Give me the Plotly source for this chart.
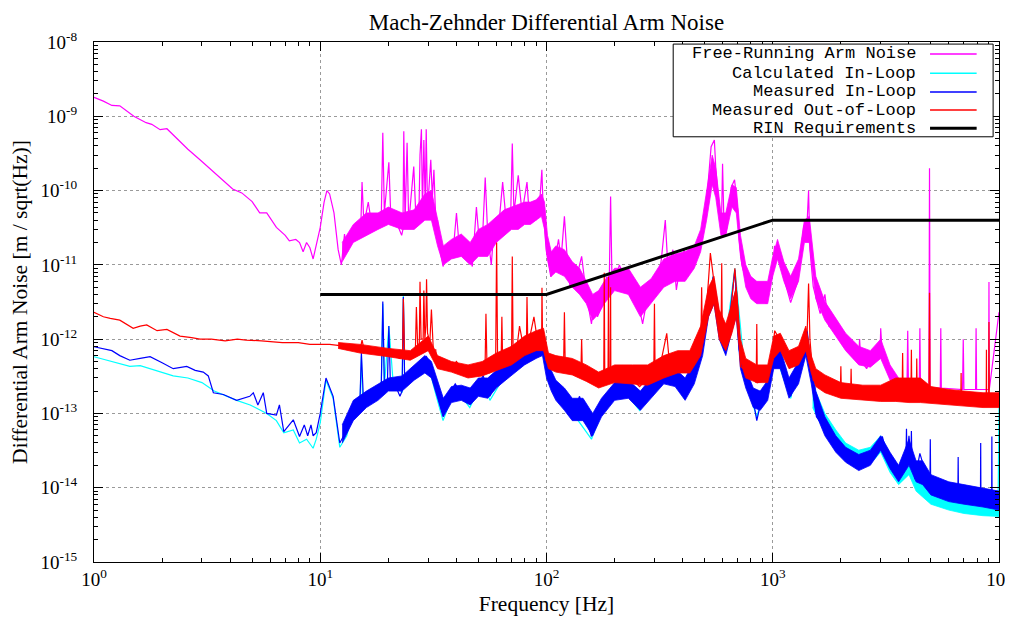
import plotly.graph_objects as go

# ---------------- data ----------------
SERIES_NAMES = ["Free-Running Arm Noise", "Calculated In-Loop", "Measured In-Loop",
                "Measured Out-of-Loop", "RIN Requirements"]
SERIES_COLORS = ["#ff00ff", "#00ffff", "#0000ff", "#ff0000", "#000000"]

X_TICK_VALUES = [1, 10, 100, 1000, 10000]
X_TICK_LABELS = ["10<sup>0</sup>", "10<sup>1</sup>", "10<sup>2</sup>", "10<sup>3</sup>", "10<sup>4</sup>"]
Y_TICK_VALUES = [1e-15, 1e-14, 1e-13, 1e-12, 1e-11, 1e-10, 1e-9, 1e-8]
Y_TICK_LABELS = ["10<sup>-15</sup>", "10<sup>-14</sup>", "10<sup>-13</sup>", "10<sup>-12</sup>",
                 "10<sup>-11</sup>", "10<sup>-10</sup>", "10<sup>-9</sup>", "10<sup>-8</sup>"]

# Free-running arm noise (magenta)
FR_FREQ = [1.0, 1.1, 1.2, 1.3, 1.5, 1.7, 1.8, 1.96, 2.1, 2.3,
           2.6, 2.94, 3.3, 3.6, 4.1, 4.5, 5.0, 5.4, 5.8, 6.4,
           7.0, 7.3, 7.8, 8.1, 8.4, 8.7, 9.0, 9.3, 9.6, 10.0,
           10.4, 10.7, 11.0, 11.5, 12.0, 12.4, 12.8, 13.2, 13.9, 14.5,
           15.1, 15.3, 15.6, 16.3, 17.0, 18.0, 18.6, 18.9, 19.2, 20.1,
           20.5, 21.3, 22.9, 23.2, 23.4, 23.7, 24.2, 24.6, 25.9, 26.5,
           27.3, 27.6, 28.0, 28.3, 28.7, 29.1, 29.4, 29.8, 30.8, 31.3,
           31.8, 32.5, 33.0, 33.8, 34.9, 36.0, 37.4, 38.5, 40.0, 41.0,
           42.8, 45.7, 47.0, 49.0, 50.5, 52.4, 53.6, 55.0, 57.0, 59.0,
           61.0, 64.0, 66.5, 69.5, 70.6, 71.8, 75.0, 78.0, 82.0, 84.0,
           87.0, 90.0, 93.0, 95.4, 96.5, 99.6, 104.5, 108, 113, 116,
           120, 124, 127, 131, 135, 143, 150, 158, 163, 168,
           178, 184, 189, 192, 195, 203, 210, 218, 230, 241,
           250, 258, 266, 276, 287, 300, 311, 322, 335, 345,
           362, 375, 390, 406, 420, 435, 456, 475, 490, 505,
           518, 534, 552, 560, 572, 583, 593, 600, 608, 622,
           640, 655, 678, 700, 710, 730, 764, 800, 842, 880,
           935, 970, 1000, 1018, 1040, 1070, 1130, 1200, 1290, 1370,
           1420, 1440, 1460, 1510, 1620, 1700, 1770, 1970, 2190, 2400,
           2420, 2450, 2600, 2850, 2980, 3000, 3050, 3150, 3400, 3630,
           3920, 3950, 3980, 4440, 4470, 4500, 4900, 4930, 4960, 5500,
           5530, 5560, 6900, 6950, 7000, 7880, 7920, 7960, 9000, 9030,
           9060, 10000]
FR_ASD = [1.8e-9, 1.6e-9, 1.4e-9, 1.38e-9, 1.0e-9, 8.2e-10, 7.8e-10, 6.6e-10, 6.8e-10, 5.2e-10,
          3.6e-10, 2.6e-10, 1.9e-10, 1.5e-10, 1.05e-10, 9.3e-11, 7.1e-11, 5.0e-11, 5.0e-11, 3.2e-11,
          2.5e-11, 2.1e-11, 2.2e-11, 2.0e-11, 1.5e-11, 2.0e-11, 1.7e-11, 1.2e-11, 1.8e-11, 3.2e-11,
          7e-11, 1.0e-10, 9e-11, 5e-11, 1.6e-11, 1.0e-11, 2.6e-11, 1.5e-11, 3.2e-11, 2.5e-11,
          3e-11, 1.3e-10, 3.5e-11, 7e-11, 3e-11, 3.5e-11, 4e-11, 6e-10, 5e-11, 2.4e-10,
          4.5e-11, 4.3e-11, 2.5e-11, 3e-11, 6.3e-10, 3.5e-11, 4.4e-10, 3.6e-11, 2.1e-10, 4e-11,
          5e-11, 3e-10, 6.7e-10, 5e-11, 4.8e-10, 6e-11, 6.7e-10, 5.5e-11, 2.6e-10, 8e-11,
          1.9e-10, 3e-11, 4e-11, 1.6e-11, 9.5e-12, 1.5e-11, 1.8e-11, 1.3e-11, 5e-11, 2e-11,
          1.8e-11, 1.3e-11, 9.5e-12, 6e-11, 2e-11, 3.2e-11, 1.5e-10, 2.5e-11, 1e-11, 4e-11,
          2.5e-11, 1.3e-10, 3.6e-11, 5e-11, 4.3e-10, 5e-11, 1.6e-10, 5e-11, 1.3e-10, 4.5e-11,
          7e-11, 4e-11, 6e-11, 1.9e-10, 6.5e-11, 1.6e-11, 6.9e-12, 1e-11, 2.2e-11, 1.2e-11,
          4.5e-11, 1e-11, 5.1e-12, 8e-12, 6.3e-12, 1.3e-11, 4e-12, 1.6e-12, 3.5e-12, 2e-12,
          3.1e-12, 6.9e-12, 4e-12, 8.3e-11, 5e-12, 7e-12, 1e-11, 7.5e-12, 6e-12, 4.6e-12,
          3e-12, 2.5e-12, 1.6e-12, 3e-12, 4.2e-12, 5e-12, 6e-12, 1.2e-11, 4e-11, 8e-12,
          1.6e-11, 4.6e-12, 1e-11, 1.6e-11, 9e-12, 8.5e-12, 1.3e-11, 2e-11, 3e-11, 6e-11,
          1.26e-10, 3.9e-10, 4.8e-10, 2e-10, 8.3e-11, 5e-11, 3e-11, 2.3e-10, 4e-11, 2.7e-11,
          5e-11, 1.1e-10, 1.4e-10, 5.5e-11, 2.2e-11, 1e-11, 6e-12, 4e-12, 3.1e-12, 5e-12,
          3e-12, 6e-12, 8.5e-12, 1.8e-11, 1.5e-11, 1.3e-11, 6e-12, 3.1e-12, 6e-12, 3.3e-11,
          4e-11, 1e-10, 1.6e-11, 5.1e-12, 2.2e-12, 4e-12, 1.5e-12, 1.2e-12, 6.5e-13, 6e-13,
          1e-12, 5.2e-13, 4e-13, 7.9e-13, 6e-13, 1.4e-12, 6e-13, 4.3e-13, 2.8e-13, 2.3e-13,
          2.3e-13, 1.3e-12, 2.3e-13, 2.2e-13, 1.4e-12, 2.2e-13, 2.2e-13, 2e-10, 2.2e-13, 2.2e-13,
          1.4e-12, 2.2e-13, 2.1e-13, 1e-12, 2.1e-13, 2.1e-13, 1.4e-12, 2.1e-13, 2.1e-13, 5.9e-12,
          2.1e-13, 2.3e-12]
# noise band (lower / upper envelope) of the free-running trace
FR_BAND_FREQ = [12.5, 14, 16, 18, 20, 23, 26, 29, 31, 33,
                35, 38, 42, 46, 50, 55, 60, 65, 70, 75,
                80, 85, 90, 95, 98, 101, 105, 110, 120, 130,
                140, 150, 160, 170, 180, 200, 230, 260, 290, 330,
                370, 410, 450, 480, 510, 540, 560, 590, 620, 660,
                690, 720, 760, 800, 850, 900, 950, 1000, 1050, 1120,
                1200, 1300, 1380, 1450, 1550, 1700, 1900, 2100, 2400, 2700,
                3000, 3300, 3600]
FR_BAND_LO = [1.1e-11, 2e-11, 2.5e-11, 3e-11, 3.5e-11, 3e-11, 3e-11, 4e-11, 4e-11, 1.8e-11,
              1e-11, 1.2e-11, 1.3e-11, 1e-11, 1.3e-11, 1.3e-11, 2e-11, 2.5e-11, 3e-11, 3e-11,
              3.5e-11, 3.5e-11, 4e-11, 4.5e-11, 3e-11, 1.2e-11, 7e-12, 8e-12, 7e-12, 5e-12,
              4e-12, 3e-12, 1.8e-12, 2.2e-12, 3e-12, 4.5e-12, 4e-12, 2e-12, 3e-12, 5e-12,
              6e-12, 6e-12, 9e-12, 1.5e-11, 4e-11, 1.2e-10, 8e-11, 2.5e-11, 2.5e-11, 6e-11,
              5e-11, 1.3e-11, 5e-12, 3.5e-12, 3e-12, 3e-12, 3e-12, 7e-12, 1.2e-11, 6e-12,
              3.5e-12, 6e-12, 2e-11, 2e-11, 3.5e-12, 1.8e-12, 1.1e-12, 7e-13, 4.5e-13, 4.2e-13,
              5.5e-13, 2.8e-13, 2e-13]
FR_BAND_HI = [2e-11, 3.5e-11, 5e-11, 5e-11, 6e-11, 5e-11, 5.5e-11, 9e-11, 1e-10, 4e-11,
              1.8e-11, 2.2e-11, 2.6e-11, 2e-11, 3e-11, 3.5e-11, 4.5e-11, 5.5e-11, 6e-11, 6.5e-11,
              7e-11, 7e-11, 7.5e-11, 9e-11, 7e-11, 2.5e-11, 1.5e-11, 1.8e-11, 1.6e-11, 1.1e-11,
              9e-12, 6e-12, 4e-12, 4.5e-12, 6e-12, 9e-12, 9e-12, 5e-12, 6.5e-12, 1.2e-11,
              1.4e-11, 1.5e-11, 1.8e-11, 3e-11, 1e-10, 3e-10, 2e-10, 5e-11, 5e-11, 1.2e-10,
              1.1e-10, 2.5e-11, 1e-11, 7e-12, 6e-12, 6e-12, 6e-12, 1.3e-11, 2.2e-11, 1.1e-11,
              7e-12, 1.2e-11, 4e-11, 4.5e-11, 7e-12, 3.2e-12, 1.9e-12, 1.2e-12, 8e-13, 7e-13,
              1e-12, 4.5e-13, 3e-13]

# Calculated in-loop (cyan)
CIL_FREQ = [1.0, 1.2, 1.44, 1.6, 2.0, 2.24, 2.6, 3.0, 3.4, 3.7,
            4.27, 4.9, 5.8, 6.4, 6.9, 7.6, 8.1, 8.7, 9.3, 9.6,
            10.0, 10.6, 11.4, 12.2, 13.1, 14, 15.0, 15.2, 15.4, 16.6,
            18.6, 18.9, 19.2, 20.1, 21, 23.0, 23.3, 23.6, 24, 27.6,
            29.5, 32.6, 34.9, 39.5, 45.8, 52.5, 56.2, 64.5, 76, 93.5,
            103, 114, 158, 184, 210, 258, 305, 340, 406, 490,
            545, 610, 680, 760, 850, 1020, 1200, 1420, 1560, 1710,
            1900, 2140, 2600, 3050, 3500, 4000, 4470, 5100, 5870, 6800,
            7920, 9900, 10000]
CIL_ASD = [5.8e-13, 5e-13, 4.3e-13, 4.4e-13, 3.6e-13, 3.2e-13, 3e-13, 2.6e-13, 2e-13, 1.8e-13,
           1.5e-13, 1.3e-13, 1e-13, 8e-14, 5.5e-14, 6e-14, 4e-14, 4.5e-14, 3.4e-14, 4.5e-14,
           7.5e-14, 2.8e-13, 1.6e-13, 3.5e-14, 5e-14, 1.2e-13, 1.5e-13, 6e-13, 1.5e-13, 1.4e-13,
           2e-13, 3e-12, 2.3e-13, 1.5e-12, 2.6e-13, 1.9e-13, 3.8e-12, 2.8e-13, 2.5e-13, 4.3e-13,
           5.5e-13, 1.7e-13, 8e-14, 2.2e-13, 1.2e-13, 2.8e-13, 1.5e-13, 3e-13, 5.5e-13, 9.5e-13,
           3.5e-13, 1.8e-13, 4.5e-14, 1.6e-13, 2.4e-13, 1.1e-13, 2.6e-13, 4e-13, 1.6e-13, 8.5e-13,
           7e-12, 7e-13, 9e-12, 2.6e-13, 9e-14, 6.5e-13, 1.6e-13, 1.2e-12, 1e-13, 7e-14,
           3.8e-14, 2.8e-14, 2.3e-14, 4.5e-14, 1.4e-14, 2.5e-14, 1.1e-14, 7e-15, 6e-15, 5e-15,
           4.8e-15, 4.5e-15, 1.2e-13]
CIL_BAND_FREQ = [1500, 1700, 1900, 2100, 2400, 2700, 3000, 3300, 3600, 4000,
                 4300, 4600, 5000, 6000, 7000, 8500, 10000]
CIL_BAND_LO = [1.2e-13, 5.5e-14, 3.5e-14, 2.5e-14, 1.9e-14, 2.1e-14, 3e-14, 1.6e-14, 1.1e-14, 1.5e-14,
               9e-15, 7.5e-15, 6e-15, 5e-15, 4.5e-15, 4.2e-15, 4.1e-15]
CIL_BAND_HI = [2.5e-13, 1e-13, 6e-14, 4e-14, 3.2e-14, 3.5e-14, 5e-14, 2.8e-14, 1.8e-14, 3.5e-14,
               1.6e-14, 1.3e-14, 9e-15, 7e-15, 6e-15, 5.5e-15, 5.3e-15]

# Measured in-loop (blue)
MIL_FREQ = [1.0, 1.1, 1.2, 1.3, 1.44, 1.6, 1.77, 2.0, 2.24, 2.57,
            2.8, 3.04, 3.2, 3.37, 3.73, 4.27, 4.88, 5.06, 5.3, 5.6,
            5.8, 6.4, 6.6, 6.9, 7.6, 8.1, 8.5, 8.8, 9.1, 9.3,
            9.6, 10.0, 10.6, 11.4, 12.2, 13.1, 14.0, 15.0, 15.2, 15.5,
            16.6, 17.7, 18.6, 18.9, 19.2, 19.8, 20.1, 20.4, 21, 22.5,
            23.0, 23.3, 23.6, 24, 25.8, 27.6, 29.5, 30.4, 32.6, 34.9,
            37.4, 39.5, 42.8, 45.8, 49.1, 52.5, 56.2, 60.2, 64.5, 69,
            76, 84.3, 93.5, 96.5, 103, 109, 114, 131, 140, 158,
            172, 184, 210, 232, 258, 276, 305, 340, 375, 406,
            445, 490, 525, 545, 580, 610, 640, 680, 710, 760,
            820, 850, 890, 935, 1020, 1070, 1200, 1290, 1370, 1420,
            1490, 1560, 1710, 1900, 2140, 2340, 2600, 2850, 3050, 3250,
            3500, 3880, 3900, 3920, 4000, 4080, 4100, 4120, 4250, 4470,
            4950, 4970, 4990, 5100, 5870, 6580, 6600, 6620, 6800, 7920,
            8280, 8300, 8320, 9280, 9300, 9320, 10000]
MIL_ASD = [7.9e-13, 7.5e-13, 7e-13, 6e-13, 5.2e-13, 5.5e-13, 5.8e-13, 4.8e-13, 4e-13, 4.3e-13,
           3.8e-13, 3.6e-13, 3.2e-13, 1.9e-13, 1.8e-13, 1.5e-13, 1.7e-13, 1.9e-13, 1.3e-13, 1.9e-13,
           1.0e-13, 9.5e-14, 1.3e-13, 5.7e-14, 8.2e-14, 4.9e-14, 7e-14, 5e-14, 7e-14, 5e-14,
           5.5e-14, 1e-13, 3e-13, 1.7e-13, 4e-14, 6e-14, 1.35e-13, 1.7e-13, 6.5e-13, 1.7e-13,
           1.5e-13, 2e-13, 2.2e-13, 3.2e-12, 2.5e-13, 2.5e-13, 1.5e-12, 2.8e-13, 2.8e-13, 1.7e-13,
           2e-13, 3.7e-12, 3e-13, 3.2e-13, 4e-13, 4.7e-13, 5.8e-13, 4.3e-13, 1.9e-13, 9.1e-14,
           1.9e-13, 2.5e-13, 1.7e-13, 1.4e-13, 2.3e-13, 3.2e-13, 1.7e-13, 2.8e-13, 3.2e-13, 4.3e-13,
           5.8e-13, 7.2e-13, 9.7e-13, 8.4e-13, 4e-13, 1.8e-13, 2e-13, 1e-13, 1.7e-13, 4.9e-14,
           1e-13, 1.7e-13, 2.6e-13, 2e-13, 1.2e-13, 1.7e-13, 2.8e-13, 4.3e-13, 2.8e-13, 1.7e-13,
           3.5e-13, 9e-13, 3.4e-12, 6.9e-12, 1.8e-12, 7.2e-13, 1.6e-12, 8.5e-12, 7.2e-13, 2.8e-13,
           1.5e-13, 8e-14, 1.5e-13, 2e-13, 7.2e-13, 5.2e-13, 1.7e-13, 3.5e-13, 9.7e-13, 1.3e-12,
           2.8e-13, 9e-14, 6.2e-14, 3.2e-14, 2.3e-14, 1.9e-14, 2.1e-14, 3.2e-14, 4.9e-14, 2.3e-14,
           1.5e-14, 2.5e-14, 6.2e-14, 2.5e-14, 5e-14, 2.5e-14, 5.8e-14, 2.5e-14, 1.3e-14, 2.9e-14,
           1e-14, 4.5e-14, 1e-14, 1e-14, 8.6e-15, 8e-15, 2.6e-14, 8e-15, 7.5e-15, 6.4e-15,
           6.4e-15, 4e-14, 6.4e-15, 6.4e-15, 4.9e-14, 6.4e-15, 6.4e-15]
MIL_BAND_FREQ = [12.5, 14, 16, 18, 20, 23, 26, 29, 31, 33,
                 35, 38, 42, 46, 50, 55, 60, 65, 70, 80,
                 90, 96, 100, 105, 110, 120, 130, 145, 160, 175,
                 200, 230, 260, 290, 330, 370, 410, 450, 490, 520,
                 550, 580, 620, 660, 690, 720, 760, 820, 880, 950,
                 1010, 1080, 1180, 1300, 1400, 1480, 1550, 1700, 1900, 2100,
                 2400, 2700, 3000, 3300, 3600, 4000, 4300, 4600, 5000, 6000,
                 7000, 8500, 10000]
MIL_BAND_LO = [4e-14, 8e-14, 1.2e-13, 1.5e-13, 2e-13, 2e-13, 2.8e-13, 3.5e-13, 3e-13, 1.6e-13,
               9e-14, 1.4e-13, 1.5e-13, 1.3e-13, 1.7e-13, 1.6e-13, 2.2e-13, 2.7e-13, 3.3e-13, 4.5e-13,
               5.5e-13, 6e-13, 3e-13, 2e-13, 1.5e-13, 1.1e-13, 8e-14, 8e-14, 5e-14, 9e-14,
               1.5e-13, 1.6e-13, 1.1e-13, 1.6e-13, 2.5e-13, 2.3e-13, 1.5e-13, 2.5e-13, 6e-13, 2e-12,
               3e-12, 1e-12, 6e-13, 1.3e-12, 2e-12, 4e-13, 2.2e-13, 1.2e-13, 1.1e-13, 1.5e-13,
               4e-13, 4e-13, 1.6e-13, 2.5e-13, 6e-13, 2.5e-13, 1e-13, 5e-14, 3e-14, 2.2e-14,
               1.7e-14, 2e-14, 3.2e-14, 1.8e-14, 1.2e-14, 2e-14, 1.2e-14, 1.1e-14, 8e-15, 6.5e-15,
               6e-15, 5.5e-15, 5e-15]
MIL_BAND_HI = [7e-14, 1.5e-13, 2e-13, 2.5e-13, 3e-13, 3.2e-13, 4.5e-13, 6e-13, 5e-13, 2.8e-13,
               1.6e-13, 2.3e-13, 2.4e-13, 2.2e-13, 3e-13, 3e-13, 3.8e-13, 4.5e-13, 5.5e-13, 7.5e-13,
               9.5e-13, 1.1e-12, 6e-13, 3.8e-13, 2.8e-13, 2.2e-13, 1.6e-13, 1.6e-13, 1e-13, 1.6e-13,
               2.6e-13, 2.8e-13, 2e-13, 3e-13, 4.5e-13, 4e-13, 3e-13, 5e-13, 1.2e-12, 4e-12,
               6e-12, 2.2e-12, 1.3e-12, 3e-12, 5e-12, 8e-13, 4e-13, 2.2e-13, 2e-13, 2.8e-13,
               8e-13, 7.5e-13, 3e-13, 5e-13, 1.2e-12, 5e-13, 2e-13, 9e-14, 5e-14, 3.5e-14,
               2.8e-14, 3.2e-14, 5e-14, 3e-14, 2e-14, 4.5e-14, 2.3e-14, 2.3e-14, 1.5e-14, 1.2e-14,
               1.1e-14, 1e-14, 9e-15]

# Measured out-of-loop (red)
MOL_FREQ = [1.0, 1.1, 1.18, 1.3, 1.49, 1.6, 1.71, 1.9, 2.1, 2.4,
            2.7, 2.94, 3.3, 3.8, 4.3, 4.7, 5.5, 6.8, 8.0, 9.0,
            11, 13, 15.0, 15.3, 15.6, 18.7, 19.6, 22.5, 23.1, 23.3,
            23.6, 24.9, 26.3, 26.6, 27.0, 27.4, 27.6, 27.9, 28.5, 28.7,
            29.0, 29.3, 29.5, 29.8, 30.5, 31.0, 31.6, 32.4, 32.7, 35,
            37.4, 40, 44, 49, 52, 53.5, 54, 54.6, 56, 59.6,
            60.2, 60.8, 63, 63.5, 64, 68, 70.1, 70.6, 71.2, 73.5,
            76, 79, 81.5, 82, 82.6, 84, 88, 91, 94, 95.2,
            95.5, 96, 99.5, 103, 110, 119, 120, 121, 130, 142,
            143, 144, 161, 172, 179, 180, 181, 187, 188, 189,
            191.5, 192, 192.5, 196, 210, 241, 258, 280, 298, 300,
            302, 316, 340, 350, 365, 390, 415, 455, 482, 485,
            488, 495, 510, 530, 545, 560, 575, 592, 595, 598,
            610, 630, 655, 680, 700, 720, 790, 845, 850, 855,
            935, 1000, 1020, 1070, 1130, 1200, 1290, 1370, 1420, 1440,
            1460, 1510, 1600, 1710, 1990, 2000, 2010, 2210, 2220, 2230,
            2420, 3000, 3400, 3730, 3750, 3770, 4080, 4100, 4120, 4310,
            4330, 4350, 4750, 4900, 4930, 4960, 6780, 6800, 6820, 8780,
            8800, 8820, 9000, 9030, 9060, 10000]
MOL_ASD = [2.3e-12, 2.0e-12, 1.9e-12, 1.8e-12, 1.4e-12, 1.5e-12, 1.55e-12, 1.3e-12, 1.35e-12, 1.1e-12,
           1.05e-12, 1.0e-12, 1.0e-12, 9.5e-13, 1.0e-12, 9.7e-13, 9.5e-13, 9e-13, 9e-13, 8.5e-13,
           8.5e-13, 8e-13, 7.2e-13, 9.7e-13, 7.4e-13, 6.5e-13, 7e-13, 5.5e-13, 6e-13, 3.5e-12,
           6e-13, 5.8e-13, 6e-13, 2.7e-12, 7e-13, 8e-13, 5.9e-12, 1e-12, 1e-12, 4.5e-12,
           1e-12, 1.5e-12, 6.4e-12, 1.2e-12, 9e-13, 2.5e-12, 7.2e-13, 7.2e-13, 4.3e-13, 4e-13,
           4e-13, 5e-13, 3.2e-13, 4e-13, 4e-13, 4e-13, 2.2e-12, 4e-13, 3.5e-13, 5e-13,
           2e-11, 5e-13, 5e-13, 2e-12, 5e-13, 7e-13, 7e-13, 1.3e-11, 7e-13, 6.5e-13,
           1.5e-12, 8e-13, 8e-13, 3.7e-12, 1e-12, 1e-12, 2e-12, 1e-12, 1.3e-12, 1.2e-12,
           4.9e-12, 1.2e-12, 5.2e-13, 4.3e-13, 4.5e-13, 4.3e-13, 2.3e-12, 4.3e-13, 4.3e-13, 4e-13,
           1e-12, 3.8e-13, 2.8e-13, 2.3e-13, 2.5e-13, 7.8e-12, 2.5e-13, 2.8e-13, 6.9e-12, 3e-13,
           3e-13, 5e-12, 3e-13, 3e-13, 3.5e-13, 2.8e-13, 2.3e-13, 3e-13, 3.5e-13, 3e-12,
           3.5e-13, 4e-13, 1.2e-12, 4.5e-13, 4.3e-13, 5.2e-13, 4.3e-13, 9.7e-13, 1.2e-12, 5e-12,
           1.2e-12, 1.2e-12, 2.7e-12, 1.44e-11, 7.7e-12, 3.7e-12, 2e-12, 2e-12, 1.05e-11, 1.5e-12,
           7.8e-13, 1.2e-12, 2.7e-12, 9e-12, 2.7e-12, 4.3e-13, 3.5e-13, 2.6e-13, 1.6e-12, 2.6e-13,
           2.8e-13, 7.2e-13, 1.3e-12, 1e-12, 6e-13, 4.6e-13, 6e-13, 1e-12, 1.3e-12, 5.6e-12,
           1e-12, 2.8e-13, 2.6e-13, 2.3e-13, 2e-13, 4.3e-13, 2e-13, 2e-13, 4e-13, 2e-13,
           1.7e-13, 1.7e-13, 1.7e-13, 1.7e-13, 6.5e-13, 1.7e-13, 1.7e-13, 7.2e-13, 1.7e-13, 1.6e-13,
           5.5e-13, 1.6e-13, 1.5e-13, 1.5e-13, 4.2e-12, 1.5e-13, 1.4e-13, 3.5e-13, 1.4e-13, 1.4e-13,
           7.2e-13, 1.4e-13, 1.4e-13, 1.7e-12, 1.4e-13, 1.45e-13]
MOL_BAND_FREQ = [12, 15, 20, 25, 30, 33, 38, 45, 52, 60,
                 70, 80, 90, 97, 102, 110, 130, 150, 170, 200,
                 240, 280, 330, 380, 430, 480, 520, 550, 580, 620,
                 660, 690, 720, 760, 850, 950, 1010, 1080, 1180, 1300,
                 1400, 1480, 1550, 1700, 2000, 2500, 3000, 3500, 4000, 4500,
                 5000, 6000, 7000, 8500, 10000]
MOL_BAND_LO = [7.5e-13, 6.5e-13, 5.8e-13, 5.2e-13, 7e-13, 4e-13, 3.6e-13, 3e-13, 3.2e-13, 3.8e-13,
               4.5e-13, 6e-13, 7e-13, 7e-13, 4e-13, 3.6e-13, 3.3e-13, 2.7e-13, 2.2e-13, 2.6e-13,
               2.5e-13, 2.4e-13, 3e-13, 3.5e-13, 3.5e-13, 6e-13, 2e-12, 3e-12, 1e-12, 7e-13,
               1.2e-12, 2e-12, 5e-13, 3e-13, 2.6e-13, 2.6e-13, 5.5e-13, 7e-13, 4e-13, 4.5e-13,
               7e-13, 3.5e-13, 2.3e-13, 1.9e-13, 1.6e-13, 1.5e-13, 1.45e-13, 1.45e-13, 1.4e-13, 1.4e-13,
               1.35e-13, 1.3e-13, 1.25e-13, 1.2e-13, 1.2e-13]
MOL_BAND_HI = [9e-13, 8.5e-13, 7.5e-13, 7e-13, 1.1e-12, 6e-13, 5e-13, 4.5e-13, 5e-13, 6.5e-13,
               8e-13, 1.1e-12, 1.3e-12, 1.4e-12, 6.5e-13, 6e-13, 5.5e-13, 4.5e-13, 3.6e-13, 4.5e-13,
               4.5e-13, 4.5e-13, 6e-13, 7e-13, 7e-13, 1.5e-12, 5e-12, 7e-12, 2.5e-12, 1.6e-12,
               3e-12, 5e-12, 1e-12, 5.5e-13, 4.5e-13, 4.5e-13, 1.1e-12, 1.2e-12, 7e-13, 8e-13,
               1.5e-12, 6e-13, 4e-13, 3.3e-13, 2.6e-13, 2.4e-13, 2.4e-13, 3e-13, 3e-13, 3e-13,
               2.3e-13, 2.1e-13, 2e-13, 1.9e-13, 1.9e-13]

# RIN requirement (black)
RIN_FREQ = [10, 100, 1000, 10000]
RIN_ASD = [4e-12, 4e-12, 4e-11, 4e-11]

# ---------------- figure ----------------
SERIF = "Liberation Serif"
MONO = "Liberation Mono"

fig = go.Figure()


def add_band(freq, lo, hi, color):
    fig.add_trace(go.Scatter(
        x=list(freq) + list(freq)[::-1], y=list(hi) + list(lo)[::-1],
        mode="lines", fill="toself", fillcolor=color,
        line=dict(color=color, width=0.8), hoverinfo="skip", showlegend=False))


def add_line(freq, vals, color, name, width=1.2):
    fig.add_trace(go.Scatter(x=freq, y=vals, mode="lines", name=name,
                             line=dict(color=color, width=width), showlegend=False))


add_band(FR_BAND_FREQ, FR_BAND_LO, FR_BAND_HI, SERIES_COLORS[0])
add_line(FR_FREQ, FR_ASD, SERIES_COLORS[0], SERIES_NAMES[0])
add_band(CIL_BAND_FREQ, CIL_BAND_LO, CIL_BAND_HI, SERIES_COLORS[1])
add_line(CIL_FREQ, CIL_ASD, SERIES_COLORS[1], SERIES_NAMES[1])
add_band(MIL_BAND_FREQ, MIL_BAND_LO, MIL_BAND_HI, SERIES_COLORS[2])
add_line(MIL_FREQ, MIL_ASD, SERIES_COLORS[2], SERIES_NAMES[2])
add_band(MOL_BAND_FREQ, MOL_BAND_LO, MOL_BAND_HI, SERIES_COLORS[3])
add_line(MOL_FREQ, MOL_ASD, SERIES_COLORS[3], SERIES_NAMES[3])
add_line(RIN_FREQ, RIN_ASD, SERIES_COLORS[4], SERIES_NAMES[4], width=3)

x_minor = [m * d for d in (1, 10, 100, 1000) for m in range(2, 10)]
y_minor = [m * d for d in (1e-15, 1e-14, 1e-13, 1e-12, 1e-11, 1e-10, 1e-9) for m in range(2, 10)]

axis_common = dict(
    type="log", showline=True, linecolor="black", linewidth=1, mirror="allticks",
    ticks="inside", ticklen=9, tickcolor="black", tickwidth=1,
    showgrid=True, gridcolor="#9a9a9a", gridwidth=1, griddash="3px,3px",
    tickfont=dict(family=SERIF, size=19, color="black"),
    tickmode="array", automargin=False,
)

fig.update_xaxes(**axis_common, range=[0, 4], tickvals=X_TICK_VALUES, ticktext=X_TICK_LABELS,
                 minor=dict(tickvals=x_minor, ticks="inside", ticklen=4, tickcolor="black", showgrid=False),
                 title=dict(text="Frequency [Hz]", font=dict(family=SERIF, size=21.5, color="black"),
                            standoff=10))
fig.update_yaxes(**axis_common, range=[-15, -8], tickvals=Y_TICK_VALUES, ticktext=Y_TICK_LABELS,
                 ticklabelstandoff=12,
                 minor=dict(tickvals=y_minor, ticks="inside", ticklen=4, tickcolor="black", showgrid=False),
                 title=dict(text="Differential Arm Noise [m / sqrt(Hz)]",
                            font=dict(family=SERIF, size=21.5, color="black"), standoff=10))

# gnuplot-style legend box (key) in the top-right corner
row_y = [0.977, 0.940, 0.904, 0.869, 0.834]
shapes = [dict(type="rect", xref="paper", yref="paper", x0=0.640, x1=0.9935, y0=0.8177, y1=0.996,
               line=dict(color="black", width=1), fillcolor="white", layer="above")]
annotations = []
for i, name in enumerate(SERIES_NAMES):
    annotations.append(dict(xref="paper", yref="paper", x=0.9105, y=row_y[i], xanchor="right",
                            yanchor="middle", text=name, showarrow=False,
                            font=dict(family=MONO, size=17, color="black")))
    shapes.append(dict(type="line", xref="paper", yref="paper", x0=0.9238, x1=0.9753,
                       y0=row_y[i], y1=row_y[i], layer="above",
                       line=dict(color=SERIES_COLORS[i], width=3 if i == 4 else 1.5)))

# the page adds an 8 px body margin, so the figure is sized/margined to compensate
FIG_W, FIG_H = 1005, 608
fig.update_layout(
    width=FIG_W, height=FIG_H,
    margin=dict(l=86, r=14, t=34, b=54, autoexpand=False),
    plot_bgcolor="white", paper_bgcolor="white",
    showlegend=False,
    title=dict(text="Mach-Zehnder Differential Arm Noise", x=0.5, xref="paper", xanchor="center",
               y=1 - 14 / FIG_H, yref="container", yanchor="middle",
               font=dict(family=SERIF, size=23, color="black")),
    shapes=shapes, annotations=annotations,
)

fig.write_html("out.html")
